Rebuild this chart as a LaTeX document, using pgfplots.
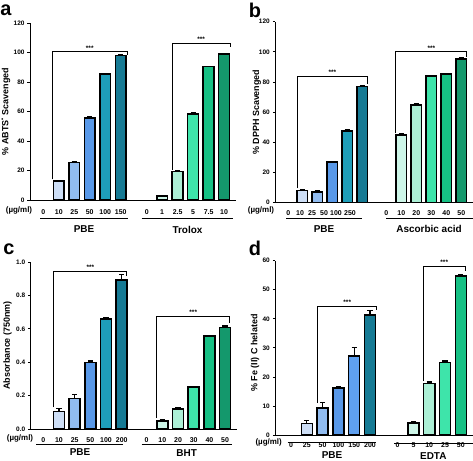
\documentclass[border=0pt]{standalone}
\usepackage{fontspec}
\setmainfont{Liberation Sans}
\usepackage{pgfplots}
\pgfplotsset{compat=1.18}
\definecolor{pa}{RGB}{205,222,246}
\definecolor{pb}{RGB}{145,188,240}
\definecolor{pc}{RGB}{88,152,232}
\definecolor{pd}{RGB}{30,158,185}
\definecolor{pe}{RGB}{22,122,148}
\definecolor{pf}{RGB}{95,160,240}
\definecolor{ga}{RGB}{205,246,232}
\definecolor{gb}{RGB}{172,240,214}
\definecolor{gc}{RGB}{62,228,170}
\definecolor{gd}{RGB}{22,192,132}
\definecolor{ge}{RGB}{20,152,108}
\newcommand{\B}[4]{\addplot[ybar,bar width=0.7,bar shift=0pt,fill=#1,draw=black,line width=1.5bp] coordinates {(#2,#3) +- (0,#4)};}
\newcommand{\stars}{\bfseries\fontsize{6.5}{6.5}\selectfont ***}
\pgfplotsset{panel/.style={
 scale only axis, anchor=south west, clip=false,
 axis x line*=bottom, axis y line*=left,
 axis line style={line width=0.9bp, black},
 ymin=0,
 tick align=outside,
 xtick style={draw=none},
 ytick style={line width=0.8bp,black},
 major tick length=2.5bp,
 yticklabel style={font=\bfseries\fontsize{6.5}{7}\selectfont, xshift=0.5bp},
 xticklabel style={font=\bfseries\fontsize{7}{8}\selectfont, anchor=center},
 ylabel style={font=\bfseries\fontsize{9}{10}\selectfont, anchor=center},
 /pgf/number format/assume math mode=true,
 error bars/y dir=plus, error bars/y explicit,
 error bars/error bar style={line width=1.3bp,black},
 error bars/error mark options={rotate=90,mark size=2.6bp,line width=1.3bp,black},
}}
\begin{document}
\begin{tikzpicture}
\useasboundingbox (0,0) rectangle (473bp,461bp);
% ---------- panel a
\begin{axis}[panel, at={(30bp,261bp)}, width=206bp, height=177bp,
  xmin=0.14, xmax=13.45, ymax=120, ytick={0,20,...,120},
  xtick={1,2,3,4,5,6,7.68,8.68,9.68,10.68,11.68,12.68},
  xticklabels={0,10,25,50,100,150,0,1,2.5,5,7.5,10},
  xticklabel style={yshift=-10bp},
  ylabel={\% ABTS\textsuperscript{•} Scavenged},
  ylabel style={at={(axis description cs:-0.117,0.5)}}]
\B{pa}{2}{13}{0.3}
\B{pb}{3}{25.5}{0.8}
\B{pc}{4}{55.6}{0.7}
\B{pd}{5}{85.3}{0.6}
\B{pe}{6}{97.8}{0.5}
\B{ga}{8.68}{2.8}{0.4}
\B{gb}{9.68}{19.3}{0.7}
\B{gc}{10.68}{58.2}{0.8}
\B{gd}{11.68}{90.4}{0.3}
\B{ge}{12.68}{98.9}{0.3}
\draw[line width=1.1bp] (axis cs:1.58,14) |- (axis cs:6.43,100.5) -- (axis cs:6.43,98.6);
\node[above,inner sep=1.5bp] at (axis cs:4,100.5) {\stars};
\draw[line width=1.1bp] (axis cs:9.34,20.5) |- (axis cs:13.07,106.2) -- (axis cs:13.07,103.6);
\node[above,inner sep=1.5bp] at (axis cs:11.2,106.2) {\stars};
\end{axis}
% ---------- panel b
\begin{axis}[panel, at={(275.3bp,258.3bp)}, width=197.7bp, height=181bp,
  xmin=0.2, xmax=13.38, ymax=120, ytick={0,20,...,120},
  xtick={1.07,1.85,2.65,3.45,4.25,5.18,7.6,8.6,9.6,10.6,11.6,12.6},
  xticklabels={0,10,25,50,100,250,0,10,20,30,40,50},
  xticklabel style={yshift=-8bp},
  ylabel={\% DPPH Scavenged},
  ylabel style={at={(axis description cs:-0.093,0.5)}}]
\B{pa}{2}{8}{0.8}
\B{pb}{3}{7.1}{0.6}
\B{pc}{4}{27.1}{0.4}
\B{pd}{5}{47.6}{0.8}
\B{pe}{6}{76.9}{0.8}
\B{ga}{8.6}{45}{0.5}
\B{gb}{9.6}{64.9}{0.9}
\B{gc}{10.6}{84}{0.4}
\B{gd}{11.6}{85.3}{0.3}
\B{ge}{12.6}{95.4}{0.5}
\draw[line width=1.1bp] (axis cs:1.67,9.5) |- (axis cs:6.33,83.6) -- (axis cs:6.33,78.5);
\node[above,inner sep=1.5bp] at (axis cs:4,83.6) {\stars};
\draw[line width=1.1bp] (axis cs:8.2,46) |- (axis cs:12.96,100.1) -- (axis cs:12.96,96.5);
\node[above,inner sep=1.5bp] at (axis cs:10.6,100.1) {\stars};
\end{axis}
% ---------- panel c
\begin{axis}[panel, at={(30.7bp,32bp)}, width=206.3bp, height=167bp,
  xmin=0.196, xmax=13.35, ymax=1.0, ytick={0,0.2,...,1.0},
  yticklabel style={/pgf/number format/.cd,fixed,fixed zerofill,precision=1},
  xtick={1,2,3,4,5,6,7.59,8.59,9.59,10.59,11.59,12.59},
  xticklabels={0,10,25,50,100,200,0,10,20,30,40,50},
  xticklabel style={yshift=-9bp},
  ylabel={Absorbance (750nm)},
  ylabel style={at={(axis description cs:-0.112,0.5)}}]
\B{pa}{2}{0.106}{0.016}
\B{pb}{3}{0.184}{0.024}
\B{pc}{4}{0.398}{0.01}
\B{pd}{5}{0.658}{0.01}
\B{pe}{6}{0.893}{0.032}
\B{ga}{8.59}{0.049}{0.005}
\B{gb}{9.59}{0.121}{0.004}
\B{gc}{10.59}{0.251}{0.003}
\B{gd}{11.59}{0.556}{0.005}
\B{ge}{12.59}{0.608}{0.008}
\draw[line width=1.1bp] (axis cs:1.64,0.13) |- (axis cs:6.32,0.942) -- (axis cs:6.32,0.915);
\node[above,inner sep=1.5bp] at (axis cs:4,0.942) {\stars};
\draw[line width=1.1bp] (axis cs:8.23,0.065) |- (axis cs:12.9,0.676) -- (axis cs:12.9,0.635);
\node[above,inner sep=1.5bp] at (axis cs:10.56,0.676) {\stars};
\end{axis}
% ---------- panel d
\begin{axis}[panel, at={(275.3bp,26bp)}, width=197.7bp, height=174.3bp,
  xmin=0.006, xmax=12.52, ymax=60, ytick={0,10,...,60},
  xtick={1,2,3,4,5,6,7.75,8.75,9.75,10.75,11.75},
  xticklabels={0,25,50,100,150,200,0,5,10,25,50},
  xticklabel style={yshift=-7.5bp},
  ylabel={\% Fe (II) C helated},
  ylabel style={at={(axis description cs:-0.103,0.47)}}]
\B{pa}{2}{4}{1.1}
\B{pb}{3}{9.3}{1.8}
\B{pc}{4}{16.1}{0.5}
\B{pf}{5}{27.2}{3}
\B{pe}{6}{41.3}{1.5}
\B{ga}{8.75}{4.1}{0.5}
\B{gb}{9.75}{17.7}{0.5}
\B{gc}{10.75}{25}{0.5}
\B{gd}{11.75}{54.8}{0.5}
\draw[line width=1.1bp] (axis cs:2.69,11) |- (axis cs:6.42,44.3) -- (axis cs:6.42,43.2);
\node[above,inner sep=1.5bp] at (axis cs:4.56,44.3) {\stars};
\draw[line width=1.1bp] (axis cs:9.37,18.5) |- (axis cs:12.06,58.1) -- (axis cs:12.06,56.5);
\node[above,inner sep=1.5bp] at (axis cs:10.7,58.1) {\stars};
\end{axis}
% ---------- annotations
\begin{scope}[font=\bfseries]
\node[font=\bfseries\fontsize{20}{20}\selectfont] at (6bp,451bp) {a};
\node[font=\bfseries\fontsize{20}{20}\selectfont] at (255bp,451bp) {b};
\node[font=\bfseries\fontsize{20}{20}\selectfont] at (9bp,212bp) {c};
\node[font=\bfseries\fontsize{20}{20}\selectfont] at (255bp,213bp) {d};
\tikzset{ug/.style={font=\bfseries\fontsize{8}{8}\selectfont, inner sep=0pt}, gl/.style={font=\bfseries\fontsize{10}{10}\selectfont, inner sep=0pt}}
% a
\node[ug] at (19bp,251bp) {(µg/ml)};
\draw[line width=0.8bp] (40bp,242.7bp) -- (128bp,242.7bp);
\draw[line width=0.8bp] (141.7bp,242.7bp) -- (233.3bp,242.7bp);
\node[gl] at (84bp,232bp) {PBE};
\node[gl] at (187.5bp,231bp) {Trolox};
% b
\node[ug] at (261bp,250.3bp) {(µg/ml)};
\draw[line width=0.8bp] (286bp,242.7bp) -- (362bp,242.7bp);
\draw[line width=0.8bp] (386bp,242.7bp) -- (473bp,242.7bp);
\node[gl] at (324bp,231.7bp) {PBE};
\node[gl] at (429bp,231.7bp) {Ascorbic acid};
% c
\node[ug] at (20bp,22.7bp) {(µg/ml)};
\draw[line width=0.8bp] (36bp,16.7bp) -- (123.3bp,16.7bp);
\draw[line width=0.8bp] (141.7bp,16.7bp) -- (231.7bp,16.7bp);
\node[gl] at (80bp,9.3bp) {PBE};
\node[gl] at (186.7bp,8.3bp) {BHT};
% d
\node[ug] at (268.7bp,18.7bp) {(µg/ml)};
\draw[line width=0.8bp] (287.7bp,18.7bp) -- (376bp,18.7bp);
\draw[line width=0.8bp] (394bp,17.5bp) -- (473bp,17.5bp);
\node[gl] at (332bp,5.5bp) {PBE};
\node[gl] at (433.3bp,5bp) {EDTA};
\end{scope}
\end{tikzpicture}
\end{document}
